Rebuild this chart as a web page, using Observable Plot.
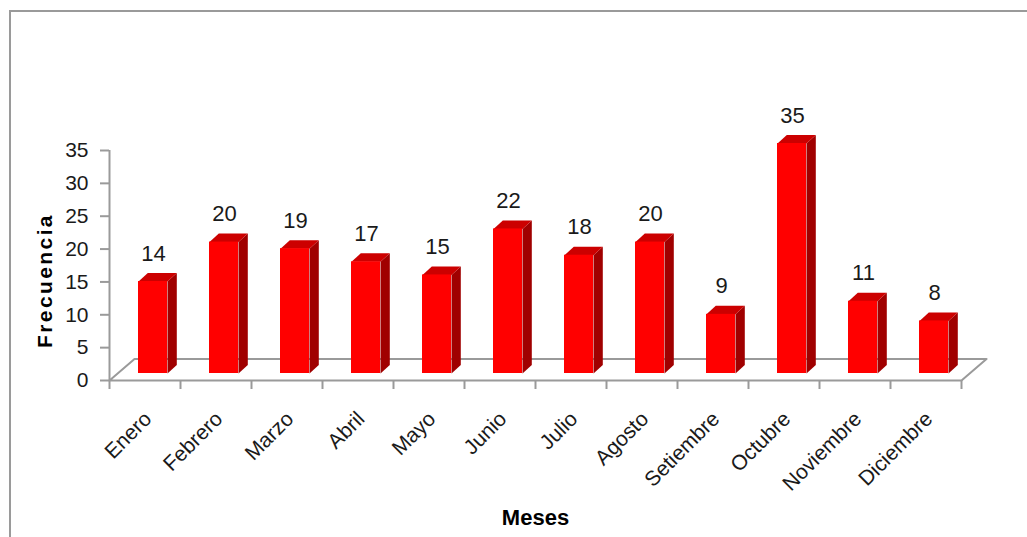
<!DOCTYPE html>
<html>
<head>
<meta charset="utf-8">
<script src="https://cdn.jsdelivr.net/npm/d3@7"></script>
<script src="https://cdn.jsdelivr.net/npm/@observablehq/plot@0.6"></script>
<style>
  html, body { margin: 0; padding: 0; background: #fff; }
  #wrap { position: relative; width: 1027px; height: 537px; overflow: hidden; }
  #border { position: absolute; left: 9px; top: 10px; width: 1100px; height: 600px;
            border-left: 2px solid #9a9a9a; border-top: 2px solid #9a9a9a; pointer-events: none; }
  svg { display: block; font-family: "Liberation Sans", Arial, sans-serif; }
</style>
</head>
<body>
<div id="wrap"><div id="border"></div></div>
<script>
// ---- data ----
const months = ["Enero","Febrero","Marzo","Abril","Mayo","Junio","Julio","Agosto","Setiembre","Octubre","Noviembre","Diciembre"];
const freq = [14, 20, 19, 17, 15, 22, 18, 20, 9, 35, 11, 8];
const yTicks = [0, 5, 10, 15, 20, 25, 30, 35];

// ---- layout ----
const W = 1027, H = 537;
const mL = 109, mR = 66, mT = 150, mB = 157;
const yMax = 35;
const pxX = (W - mL - mR) / months.length;   // px per category
const pxY = (H - mT - mB) / yMax;            // px per unit
const gray = "#9a9a9a";

// 3D offsets (px)
const barHalf = 14.5 / pxX;      // half width of bar front face in x-units
const barDx = 8, barDy = -7;     // bar placement inside floor depth
const depX = 9.3 / pxX, depY = 8.5 / pxY;   // bar depth
const floorX = 25 / pxX, floorY = 21.5 / pxY; // floor depth

const rows = months.map((m, i) => ({i, m, v: freq[i], x1: i + 0.5 - barHalf, x2: i + 0.5 + barHalf}));

const sideFaces = rows.flatMap(d => [
  {id: d.i, x: d.x2, y: 0}, {id: d.i, x: d.x2 + depX, y: depY},
  {id: d.i, x: d.x2 + depX, y: d.v + depY}, {id: d.i, x: d.x2, y: d.v}
]);
const topFaces = rows.flatMap(d => [
  {id: d.i, x: d.x1, y: d.v}, {id: d.i, x: d.x2, y: d.v},
  {id: d.i, x: d.x2 + depX, y: d.v + depY}, {id: d.i, x: d.x1 + depX, y: d.v + depY}
]);
const n = months.length;
const floorPts = [
  {x: 0, y: 0}, {x: n, y: 0}, {x: n + floorX, y: floorY}, {x: floorX, y: floorY}, {x: 0, y: 0}
];

const chart = Plot.plot({
  width: W, height: H,
  marginLeft: mL, marginRight: mR, marginTop: mT, marginBottom: mB,
  x: {domain: [0, n], axis: null},
  y: {domain: [0, yMax], axis: null},
  style: {fontFamily: '"Liberation Sans", Arial, sans-serif', background: "transparent", overflow: "visible"},
  marks: [
    // floor
    Plot.line(floorPts, {x: "x", y: "y", stroke: gray, strokeWidth: 2}),
    // y axis line
    Plot.ruleX([0], {y1: 0, y2: yMax, stroke: gray, strokeWidth: 2}),
    Plot.axisY({ticks: yTicks, tickSize: 9, tickPadding: 12, stroke: gray, fill: "#1a1a1a", fontSize: 21, strokeWidth: 2}),
    // x ticks at category boundaries
    Plot.axisX({ticks: d3.range(n + 1), tickSize: 9, tickFormat: () => "", stroke: gray, strokeWidth: 2}),
    // month labels
    Plot.text(rows, {x: d => d.i + 0.5, y: 0, text: "m", rotate: -45, textAnchor: "end",
      dx: 3, dy: 35, fontSize: 21, fill: "#1a1a1a"}),
    // bars
    Plot.line(sideFaces, {x: "x", y: "y", z: "id", fill: "#a00000", stroke: "none", dx: barDx, dy: barDy}),
    Plot.line(topFaces, {x: "x", y: "y", z: "id", fill: "#cc0000", stroke: "none", dx: barDx, dy: barDy}),
    Plot.rect(rows, {x1: "x1", x2: "x2", y1: 0, y2: "v", fill: "#ff0000", dx: barDx, dy: barDy}),
    // value labels
    Plot.text(rows, {x: d => d.i + 0.5, y: "v", text: d => String(d.v), dx: 8.5, dy: -35,
      fontSize: 22, fill: "#1a1a1a"}),
    // axis titles
    Plot.text(["Frecuencia"], {frameAnchor: "left", textAnchor: "middle", text: d => d, rotate: -90, dx: -64, dy: 15,
      fontSize: 21, fontWeight: "bold", fill: "#000"}),
    Plot.text(["Meses"], {frameAnchor: "bottom", text: d => d, dy: 144, fontSize: 22,
      fontWeight: "bold", fill: "#000"})
  ]
});

d3.select(chart).selectAll("text").filter(function() { return this.textContent === "Frecuencia"; })
  .attr("letter-spacing", "2.4px");

document.getElementById("wrap").prepend(chart);
</script>
</body>
</html>
